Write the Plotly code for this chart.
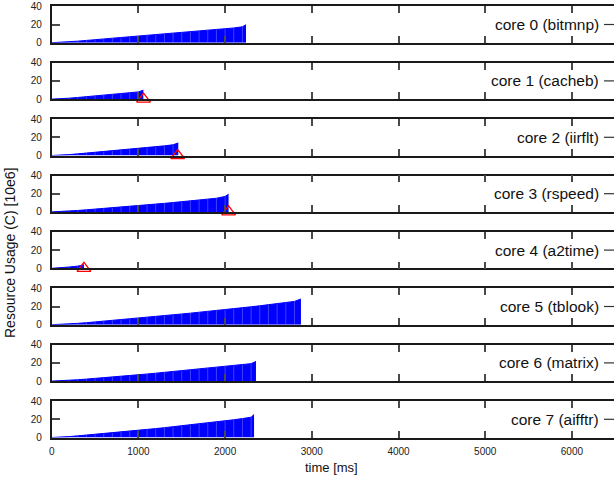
import plotly.graph_objects as go

# ---------------- data ----------------
core_labels = ["core 0 (bitmnp)", "core 1 (cacheb)", "core 2 (iirflt)", "core 3 (rspeed)",
               "core 4 (a2time)", "core 5 (tblook)", "core 6 (matrix)", "core 7 (aifftr)"]

# sample times [ms]; each core uses as many as it has values
sample_ms = [0, 100, 200, 300, 400, 500, 600, 700, 800, 900, 1000, 1100, 1200, 1300, 1400,
             1500, 1600, 1700, 1800, 1900, 2000, 2100, 2200, 2300, 2400, 2500, 2600, 2700, 2800]

core0 = [0.0, 0.3, 1.0, 1.7, 2.5, 3.3, 4.0, 4.8, 5.6, 6.4, 7.2, 8.0, 8.8, 9.6, 10.4, 11.2,
         12.0, 12.8, 13.6, 14.4, 15.3, 16.2, 17.5]
core1 = [0.0, 0.3, 1.0, 1.8, 2.6, 3.4, 4.3, 5.1, 6.0, 6.9, 7.9]
core2 = [0.0, 0.3, 1.0, 1.8, 2.6, 3.4, 4.3, 5.1, 6.0, 6.9, 7.6, 8.6, 9.6, 10.6, 11.8]
core3 = [0.0, 0.3, 0.9, 1.6, 2.3, 3.0, 3.8, 4.5, 5.3, 6.1, 6.9, 7.7, 8.6, 9.4, 10.3, 11.2,
         12.1, 13.0, 14.0, 15.0, 17.0]
core4 = [0.0, 0.5, 1.4, 2.4]
core5 = [0.0, 0.3, 0.9, 1.5, 2.2, 3.0, 3.8, 4.6, 5.5, 6.4, 7.3, 8.2, 9.1, 10.0, 10.9, 11.8,
         12.7, 13.6, 14.6, 15.6, 16.6, 17.6, 18.6, 19.7, 20.8, 21.9, 23.1, 24.3, 25.6]
core6 = [0.0, 0.3, 0.9, 1.5, 2.2, 2.9, 3.7, 4.5, 5.3, 6.1, 7.0, 7.8, 8.7, 9.6, 10.5, 11.4,
         12.3, 13.2, 14.1, 15.0, 15.9, 16.9, 17.9, 19.2]
core7 = [0.0, 0.3, 1.0, 1.8, 2.6, 3.4, 4.2, 5.1, 6.0, 6.9, 7.9, 8.8, 9.8, 10.8, 11.8, 12.8,
         13.8, 14.9, 16.0, 17.1, 18.3, 19.5, 20.8, 22.3]
core_values = [core0, core1, core2, core3, core4, core5, core6, core7]

# final sample of each core (time of termination, last value)
end_ms = [2241, 1057, 1460, 2040, 372, 2875, 2356, 2334]
end_value = [19.8, 9.8, 13.8, 19.5, 3.8, 28.3, 21.6, 25.3]

# deadline-miss markers (core index, time)
miss_core = [1, 2, 3, 4]
miss_ms = [1059, 1453, 2040, 372]
miss_value = [0, 0, 0, 0]

x_ticks = [0, 1000, 2000, 3000, 4000, 5000, 6000]
y_ticks = [0, 20, 40]

# ---------------- layout geometry ----------------
W, H = 614, 479
X0_PX = 51.7
PX_PER_MS = 0.0867
TOP0 = 6.3
PITCH = 56.4
PANEL_H = 36.4
x_max = (W - X0_PX) / PX_PER_MS

FONT = "Liberation Sans, Arial, Helvetica, sans-serif"
BORDER = "#1a1a1a"
TICKC = "#4a4a4a"

fig = go.Figure()
layout = dict(
    width=W, height=H,
    margin=dict(l=0, r=0, t=0, b=0),
    paper_bgcolor="white", plot_bgcolor="white",
    showlegend=False,
    font=dict(family=FONT, size=10, color="#222"),
)
annotations = []
shapes = []

for i in range(8):
    vals = core_values[i]
    xs = sample_ms[:len(vals)] + [end_ms[i]]
    ys = vals + [end_value[i]]
    ax = "" if i == 0 else str(i + 1)
    # filled impulse area
    fig.add_trace(go.Scatter(
        x=xs, y=ys, mode="lines", fill="tozeroy", fillcolor="#0000ff",
        line=dict(color="#0000ff", width=1),
        xaxis="x" + ax, yaxis="y" + ax, hoverinfo="skip",
    ))
    # faint impulse separators (drawn as one-sided error bars down to zero)
    fig.add_trace(go.Scatter(
        x=xs[1:-1], y=ys[1:-1], mode="markers",
        marker=dict(size=1, color="rgba(0,0,0,0)"),
        error_y=dict(type="data", symmetric=False, array=[0] * len(ys[1:-1]),
                     arrayminus=ys[1:-1], color="rgba(150,150,255,0.6)",
                     thickness=0.7, width=0),
        xaxis="x" + ax, yaxis="y" + ax, hoverinfo="skip",
    ))
    top_px = TOP0 + PITCH * i
    bot_px = top_px + PANEL_H
    layout["xaxis" + ax] = dict(
        domain=[X0_PX / W, 1.0], range=[0, x_max], anchor="y" + ax,
        tickvals=x_ticks, ticks="inside", ticklen=7, tickwidth=1.5, tickcolor=TICKC,
        showline=True, linecolor=BORDER, linewidth=1.6, mirror="ticks",
        showgrid=False, zeroline=False, showticklabels=(i == 7),
        tickfont=dict(size=10, family=FONT, color="#222"), automargin=False,
        ticklabelstandoff=4,
    )
    layout["yaxis" + ax] = dict(
        domain=[1 - bot_px / H, 1 - top_px / H], range=[0, 40], anchor="x" + ax,
        tickvals=y_ticks, ticks="inside", ticklen=8, tickwidth=1.5, tickcolor=TICKC,
        showline=True, linecolor=BORDER, linewidth=1.6, mirror=False,
        showgrid=False, zeroline=False,
        tickfont=dict(size=10, family=FONT, color="#222"), automargin=False,
        ticklabelstandoff=6,
    )
    yc = 1 - (top_px + PANEL_H / 2) / H
    annotations.append(dict(
        text=core_labels[i], x=601 / W, y=yc, xref="paper", yref="paper",
        xanchor="right", yanchor="middle", showarrow=False,
        font=dict(size=15.5, family=FONT, color="#111"),
    ))
    shapes.append(dict(type="line", xref="paper", yref="paper",
                       x0=604 / W, x1=1.0, y0=yc, y1=yc,
                       line=dict(color="#333", width=1.2)))

for c, t, v in zip(miss_core, miss_ms, miss_value):
    ax = "" if c == 0 else str(c + 1)
    fig.add_trace(go.Scatter(
        x=[t], y=[v], mode="markers", xaxis="x" + ax, yaxis="y" + ax,
        marker=dict(symbol="triangle-up-open", size=12, color="#ff0000",
                    line=dict(color="#ff0000", width=1.3)),
        cliponaxis=False, hoverinfo="skip",
    ))

annotations.append(dict(text="time [ms]", x=331 / W, y=1 - 467 / H, xref="paper", yref="paper",
                        xanchor="center", yanchor="middle", showarrow=False,
                        font=dict(size=13, family=FONT, color="#111")))
annotations.append(dict(text="Resource Usage (C) [10e6]", x=10 / W, y=1 - 253 / H,
                        xref="paper", yref="paper", xanchor="center", yanchor="middle",
                        textangle=-90, showarrow=False,
                        font=dict(size=14, family=FONT, color="#111")))

layout["annotations"] = annotations
layout["shapes"] = shapes
fig.update_layout(**layout)
fig.write_html("out.html", config={"displayModeBar": False},
               post_script="document.body.style.margin='0';document.body.style.overflow='hidden';")
